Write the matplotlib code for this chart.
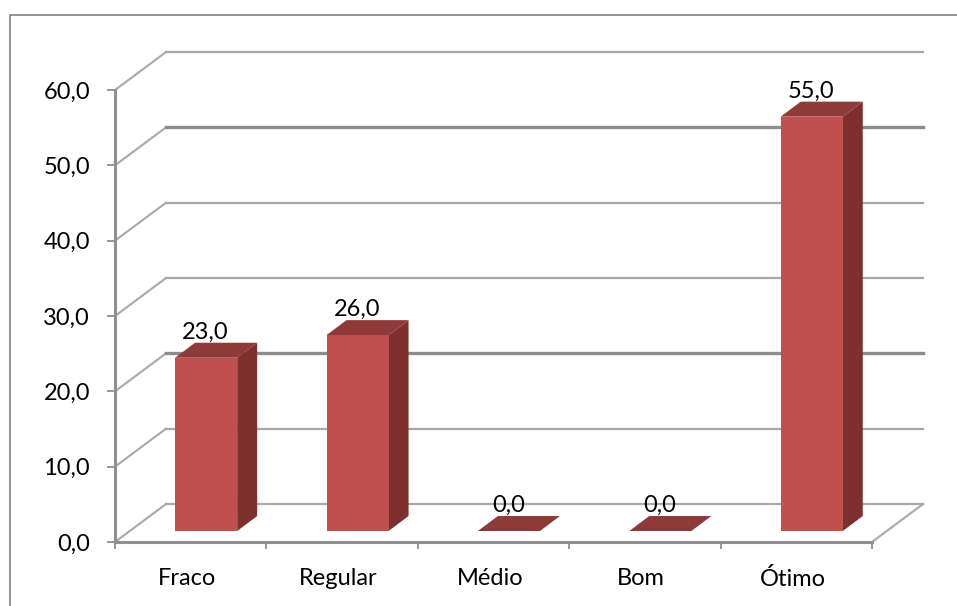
#!/usr/bin/env python3
"""3D-style column chart of rating counts"""

import matplotlib
matplotlib.use("Agg")
import matplotlib.pyplot as plt
from matplotlib.patches import Polygon

categories = ["Fraco", "Regular", "Médio", "Bom", "Ótimo"]
values = [23.0, 26.0, 0.0, 0.0, 55.0]
y_ticks = [0, 10, 20, 30, 40, 50, 60]
heavy_grid = [20, 50]

# depth of the box in data units (x = categories, y = value)
wall_dx, wall_dy = 0.337, 5.04
bar_left, bar_width = 0.397, 0.41
base_y = 1.46
bar_dx, bar_dy = 0.132, 1.99

FRONT = "#c0504d"
SIDE = "#7d302e"
TOP = "#8e3a38"
GRID = "#a8a8a8"
AXIS = "#909090"
FONT_SIZE = 17

plt.rcParams["font.family"] = ["Lato", "DejaVu Sans"]


def fmt(v):
    return f"{v:.1f}".replace(".", ",")


fig = plt.figure(figsize=(9.57, 6.06), dpi=100)
ax = fig.add_axes([115 / 957, (606 - 542) / 606, 757 / 957, 452 / 606])
ax.set_xlim(0, len(categories))
ax.set_ylim(0, 60)

# outer frame: only the top and left edges show
fig.add_artist(plt.Line2D([9.5 / 957, 9.5 / 957, 1], [0, 1 - 14.5 / 606, 1 - 14.5 / 606],
                          color="#8c8c8c", lw=1.3))

# side wall diagonals, then back wall lines
n = len(categories)
for v in y_ticks:
    heavy = v in heavy_grid
    ax.plot([0, wall_dx], [v, v + wall_dy], color=GRID, lw=1.5, clip_on=False, zorder=1)
    ax.plot([wall_dx, n + wall_dx], [v + wall_dy, v + wall_dy],
            color="#8c8c8c" if heavy else GRID, lw=2.4 if heavy else 1.6,
            clip_on=False, zorder=1)
ax.plot([n, n + wall_dx], [0, wall_dy], color=GRID, lw=1.5, clip_on=False, zorder=1)

# columns
for i, val in enumerate(values):
    x0 = i + bar_left
    x1 = x0 + bar_width
    y0 = base_y
    y1 = base_y + val
    if val > 0:
        ax.add_patch(Polygon([(x1, y0), (x1 + bar_dx, y0 + bar_dy), (x1 + bar_dx, y1 + bar_dy), (x1, y1)],
                             closed=True, fc=SIDE, ec="none", zorder=3, clip_on=False))
        ax.add_patch(Polygon([(x0, y0), (x1, y0), (x1, y1), (x0, y1)],
                             closed=True, fc=FRONT, ec="none", zorder=3, clip_on=False))
    ax.add_patch(Polygon([(x0, y1), (x1, y1), (x1 + bar_dx, y1 + bar_dy), (x0 + bar_dx, y1 + bar_dy)],
                         closed=True, fc=TOP, ec="none", zorder=3, clip_on=False))
    ax.annotate(fmt(val), (x0 + bar_width / 2, y1), xytext=(-0.5, 18.5), textcoords="offset points",
                ha="center", va="center", fontsize=FONT_SIZE, color="black", zorder=4, annotation_clip=False)

# axes
for side in ("top", "right"):
    ax.spines[side].set_visible(False)
for side in ("left", "bottom"):
    ax.spines[side].set_color(AXIS)
    ax.spines[side].set_linewidth(2.2)
    ax.spines[side].set_zorder(2)

ax.set_yticks(y_ticks, [fmt(v) for v in y_ticks])
ax.set_xticks(range(n + 1), [""] * (n + 1))
ax.set_xticks([i + 0.475 for i in range(n)], categories, minor=True)
ax.tick_params(axis="y", length=6, width=1.3, color=AXIS, labelsize=FONT_SIZE, pad=12)
ax.tick_params(axis="x", which="major", length=5, width=1.3, color=AXIS)
ax.tick_params(axis="x", which="minor", length=0, labelsize=FONT_SIZE, pad=18.5)
ax.patch.set_alpha(0)

fig.savefig("out.png", dpi=100)
